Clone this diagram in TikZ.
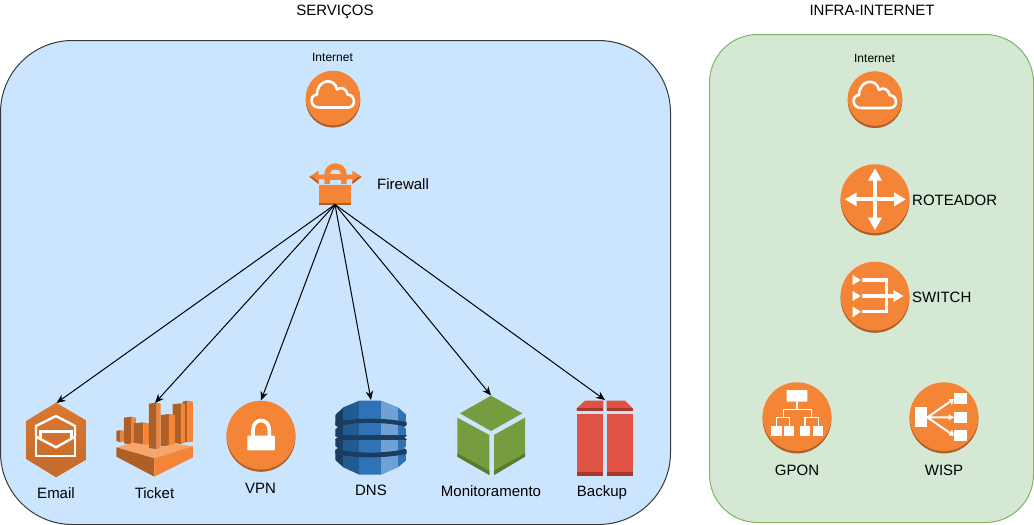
\documentclass[tikz,border=0pt]{standalone}
\usepackage{fontspec}
\setmainfont{Liberation Sans}
\usetikzlibrary{arrows.meta}
\definecolor{awsor}{HTML}{F58536}
\definecolor{awsdk}{HTML}{AD6029}
\definecolor{awslt}{HTML}{F8A56C}
\definecolor{awsmd}{HTML}{AD5F25}
\definecolor{dnsa}{HTML}{1C3C60}
\definecolor{dnsb}{HTML}{205C92}
\definecolor{dnsc}{HTML}{2E73B8}
\definecolor{dnsd}{HTML}{6FA1D4}
\definecolor{mona}{HTML}{759C3E}
\definecolor{monb}{HTML}{5A7A2E}
\definecolor{reda}{HTML}{E05243}
\definecolor{redb}{HTML}{A8392F}
\definecolor{panelb}{HTML}{CCE5FF}
\definecolor{panelbd}{HTML}{36393D}
\definecolor{panelg}{HTML}{D5E8D4}
\definecolor{panelgd}{HTML}{82B366}
\tikzset{
  lab/.style={font=\fontsize{15}{18}\selectfont,text=black,inner sep=0pt},
  smalllab/.style={font=\fontsize{12}{14}\selectfont,text=black,inner sep=0pt},
  conn/.style={-{Stealth[length=9pt,width=7.5pt]},draw=black,line width=1pt},
  wl/.style={draw=white,line width=2.4pt},
  zoomed/.style={x=.33333pt,y=-.33333pt}
}
\newcommand{\disc}[3]{%
  \fill[awsdk] (#1,#2+2.3) circle[radius=#3];
  \fill[awsor] (#1,#2) circle[radius=#3];}
\newcommand{\cloudicon}[2]{%
  \disc{#1}{#2}{27.3}
  \draw[white,line width=2.6pt,line join=round] (#1-14,#2+9.5) .. controls (#1-23,#2+9.5) and (#1-24,#2-3) .. (#1-16,#2-3.5)
    .. controls (#1-16,#2-19) and (#1+2,#2-21) .. (#1+4,#2-8.5)
    .. controls (#1+8,#2-12) and (#1+14,#2-9) .. (#1+14.5,#2-3.5)
    .. controls (#1+23,#2-3) and (#1+23,#2+9.5) .. (#1+15,#2+9.5) -- cycle;}
\newcommand{\tbar}[6]{%
  \fill[awsmd] (#1,#4+3) -- (#2,#4) -- (#2,#6) -- (#1,#5) -- cycle;
  \fill[awsor] (#2,#4) -- (#3,#4+3) -- (#3,#5) -- (#2,#6) -- cycle;}
\begin{document}
\begin{tikzpicture}[x=1pt,y=-1pt]
\useasboundingbox (0,0) rectangle (1034,525);
% panels
\draw[fill=panelb,draw=panelbd,line width=1pt,rounded corners=72pt] (.5,40.5) rectangle (670.5,524.5);
\draw[fill=panelg,draw=panelgd,line width=1pt,rounded corners=48pt] (709.5,34.5) rectangle (1033.5,522.5);
\node[lab,anchor=base] (titleserv) at (335,15) {SERVIÇOS};
\node[lab,anchor=base] (titleinfra) at (872,15.5) {INFRA-INTERNET};
% left internet
\cloudicon{333}{98}
\node[smalllab] (net1) at (332.5,57) {Internet};
% firewall
\begin{scope}[shift={(280,40)},zoomed]
 \fill[awsor] (133,432) -- (133,405) .. controls (133,358) and (200,358) .. (200,405) -- (200,432) -- cycle;
 \fill[panelb] (150,403) .. controls (150,384) and (183,384) .. (183,403) -- cycle;
 \fill[panelb] (150,420) rectangle (183,434);
 \fill[awsor] (88,410) -- (116,392) -- (116,404) -- (217,404) -- (217,392) -- (245,410) -- (217,432) -- (217,418) -- (116,418) -- (116,432) -- cycle;
 \fill[awsmd] (88,410) -- (116,432) -- (116,425) -- (97,410) -- cycle;
 \fill[awsmd] (245,410) -- (217,432) -- (217,425) -- (236,410) -- cycle;
 \fill[awsor] (118,434) rectangle (214,488);
 \fill[awsdk] (118,488) rectangle (214,495);
\end{scope}
\node[lab,anchor=west] (fwlab) at (377,184) {Firewall};
\coordinate (fw) at (335,204.5);
% email
\begin{scope}[shift={(0,380)},zoomed]
 \shade[top color=awsor!90!black,bottom color=awsor!80!black] (168,68) -- (260,122) -- (260,238) -- (168,292) -- (80,238) -- (80,122) -- cycle;
 \draw[wl,line join=miter] (108,170) -- (108,228) -- (225,228) -- (225,170);
 \draw[wl] (108,170) -- (108,138) -- (168,108) -- (225,138) -- (225,170);
 \draw[wl] (108,170) -- (168,202) -- (225,170);
 \draw[wl] (122,178) -- (122,154) -- (215,154) -- (215,178);
\end{scope}
\coordinate (email) at (56.5,403);
\node[lab] (emaillab) at (56,493) {Email};
% ticket
\begin{scope}[shift={(0,380)},zoomed]
 \tbar{349}{362}{372}{150}{183}{187}
 \tbar{372}{395}{408}{110}{190}{194}
 \tbar{548}{562}{579}{62}{185}{187}
 \tbar{518}{543}{555}{70}{188}{192}
 \tbar{402}{430}{447}{127}{194}{198}
 \tbar{482}{507}{525}{102}{198}{200}
 \tbar{447}{470}{482}{68}{205}{207}
 \fill[awslt] (349,202) -- (400,188) -- (447,196) -- (447,206) -- (482,207) -- (482,200) -- (530,192) -- (579,198) -- (463,235) -- cycle;
 \fill[awsmd] (349,202) -- (463,235) -- (463,290) -- (349,230) -- cycle;
 \fill[awsor] (463,235) -- (579,198) -- (579,232) -- (463,290) -- cycle;
\end{scope}
\coordinate (ticket) at (155,403);
\node[lab] (ticketlab) at (154.5,493) {Ticket};
% vpn
\disc{261}{435.1}{34.4}
\begin{scope}[shift={(0,380)},zoomed]
 \draw[white,line width=3.6pt] (759,170) -- (759,150) .. controls (759,112) and (808,112) .. (808,150) -- (808,170);
 \fill[white,rounded corners=1pt] (742,167) rectangle (825,211);
\end{scope}
\coordinate (vpn) at (261,400.5);
\node[lab] (vpnlab) at (260.5,488) {VPN};
% dns
\begin{scope}[shift={(320,380)},zoomed]
 \begin{scope}
  \clip (46,105) -- (70,82) -- (118,62) -- (184,62) -- (234,82) -- (260,105) -- (260,135) -- (252,142) -- (260,148) -- (260,168) -- (252,172) -- (260,178) -- (260,198) -- (252,204) -- (260,210) -- (260,240) -- (234,262) -- (184,284) -- (118,284) -- (70,262) -- (46,240) -- (46,210) -- (54,204) -- (46,198) -- (46,178) -- (54,172) -- (46,168) -- (46,148) -- (54,142) -- (46,135) -- cycle;
  \fill[dnsa] (46,60) rectangle (70,290);
  \fill[dnsb] (70,60) rectangle (118,290);
  \fill[dnsc] (118,60) rectangle (184,290);
  \fill[dnsd] (184,60) rectangle (234,290);
  \fill[dnsc] (234,60) rectangle (260,290);
  \fill[dnsa] (40,128) .. controls (100,112) and (200,112) .. (265,128) -- (265,142) .. controls (200,124) and (100,124) .. (40,142) -- cycle;
  \fill[dnsa] (40,166) rectangle (265,179);
  \fill[dnsa] (40,205) .. controls (100,222) and (200,222) .. (265,205) -- (265,220) .. controls (200,236) and (100,236) .. (40,220) -- cycle;
 \end{scope}
\end{scope}
\coordinate (dns) at (371,400);
\node[lab] (dnslab) at (371,490) {DNS};
% monitoramento
\begin{scope}[shift={(320,380)},zoomed]
 \fill[mona] (513,47) -- (607,100) -- (513,153) -- (420,100) -- cycle;
 \fill[mona] (412,113) -- (508,165) -- (508,285) -- (412,230) -- cycle;
 \fill[mona] (522,165) -- (615,113) -- (615,230) -- (522,285) -- cycle;
 \fill[monb] (412,220) -- (508,272) -- (508,285) -- (412,230) -- cycle;
 \fill[monb] (522,272) -- (615,220) -- (615,230) -- (522,285) -- cycle;
\end{scope}
\coordinate (mon) at (491,395.5);
\node[lab] (monlab) at (491,491) {Monitoramento};
% backup
\begin{scope}[shift={(320,380)},zoomed]
 \fill[reda] (770,92) -- (770,85) -- (795,62) -- (850,62) -- (850,92) -- cycle;
 \fill[reda] (860,92) -- (860,62) -- (915,62) -- (938,85) -- (938,92) -- cycle;
 \fill[redb] (770,84) rectangle (850,92);
 \fill[redb] (860,84) rectangle (938,92);
 \fill[reda] (770,102) rectangle (850,287);
 \fill[reda] (860,102) rectangle (940,287);
 \fill[redb] (770,277) rectangle (850,287);
 \fill[redb] (860,277) rectangle (940,287);
\end{scope}
\coordinate (backup) at (605,400);
\node[lab] (backuplab) at (602,493) {Backup};
% connectors
\draw[conn] (fw) -- (email);
\draw[conn] (fw) -- (ticket);
\draw[conn] (fw) -- (vpn);
\draw[conn] (fw) -- (dns);
\draw[conn] (fw) -- (mon);
\draw[conn] (fw) -- (backup);
% right internet
\cloudicon{875}{98.5}
\node[smalllab] (net2) at (874.5,58) {Internet};
% router
\disc{875}{198.7}{34.4}
\begin{scope}[shift={(830,155)},zoomed]
 \draw[white,line width=4pt] (135,70) -- (135,195) (75,133) -- (195,133);
 \fill[white] (135,40) -- (156,77) -- (114,77) -- cycle;
 \fill[white] (135,225) -- (156,188) -- (114,188) -- cycle;
 \fill[white] (45,133) -- (80,112) -- (80,154) -- cycle;
 \fill[white] (227,133) -- (192,112) -- (192,154) -- cycle;
\end{scope}
\node[lab,anchor=west] (rlab) at (912,200) {ROTEADOR};
% switch
\disc{875}{296.1}{34.4}
\begin{scope}[shift={(830,155)},zoomed]
 \fill[white] (68,360) -- (92,375) -- (68,390) -- cycle;
 \fill[white] (68,408) -- (92,423) -- (68,438) -- cycle;
 \fill[white] (68,455) -- (92,470) -- (68,487) -- cycle;
 \draw[white,line width=3.6pt] (95,375) -- (170,375) -- (170,470) -- (95,470) (95,423) -- (195,423);
 \fill[white] (190,405) -- (220,423) -- (190,441) -- cycle;
\end{scope}
\node[lab,anchor=west] (slab) at (912,297) {SWITCH};
% gpon
\disc{797}{416.7}{34.4}
\begin{scope}[shift={(750,375)},zoomed]
 \fill[white,rounded corners=.5pt] (110,45) rectangle (172,80);
 \draw[white,line width=1.5pt] (141,80) -- (141,103) (100,128) -- (100,103) -- (185,103) -- (185,128) (80,152) -- (80,128) -- (118,128) -- (118,152) (165,152) -- (165,128) -- (205,128) -- (205,152);
 \fill[white] (63,152) rectangle (95,182);
 \fill[white] (102,152) rectangle (133,182);
 \fill[white] (149,152) rectangle (180,182);
 \fill[white] (188,152) rectangle (218,182);
\end{scope}
\node[lab] (gponlab) at (797,470) {GPON};
% wisp
\disc{944}{416.7}{34.4}
\begin{scope}[shift={(750,375)},zoomed]
 \fill[white] (495,97) rectangle (532,157);
 \fill[white] (613,55) rectangle (650,88);
 \fill[white] (613,110) rectangle (650,143);
 \fill[white] (613,165) rectangle (650,198);
 \draw[white,line width=2pt] (532,127) -- (600,80) (532,127) -- (600,127) (532,127) -- (600,174);
 \fill[white] (612,72) -- (596,72) -- (606,90) -- cycle;
 \fill[white] (612,127) -- (596,118) -- (596,136) -- cycle;
 \fill[white] (612,182) -- (606,164) -- (596,182) -- cycle;
\end{scope}
\node[lab] (wisplab) at (944,470) {WISP};
\end{tikzpicture}
\end{document}
